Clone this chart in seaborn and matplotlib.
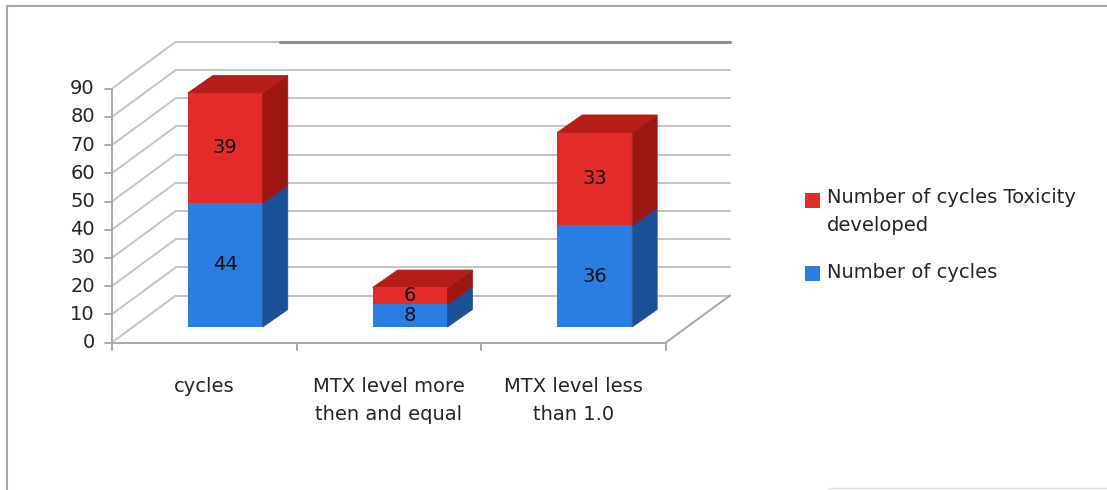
import matplotlib.pyplot as plt
import seaborn as sns
from matplotlib.patches import Polygon, Rectangle
from matplotlib.lines import Line2D

# data
categories = ["cycles", "MTX level more\nthen and equal", "MTX level less\nthan 1.0"]
cycles = [44, 8, 36]
toxicity = [39, 6, 33]
yticks = list(range(0, 100, 10))
legend_labels = ["Number of cycles Toxicity\ndeveloped", "Number of cycles"]

BLUE, BLUE_SIDE = "#2a7ee2", "#1b4f97"
RED, RED_TOP, RED_SIDE = "#e32c2a", "#b51d18", "#9c1612"
GRID = "#c4c4c4"
AXIS = "#a9a9a9"

W, H = 1107, 490
PX_X, PX_Y = 184.7, 2.82      # pixels per category / per value unit
OX, OY = 225.3, 327           # pixel of the bar front plane at (cat 0, value 0)

DX, DY = 64 / PX_X, 47 / PX_Y     # depth of the 3d box
F = 0.33                          # bars sit this far into the box
BDX, BDY = 25 / PX_X, 17.5 / PX_Y  # depth of one bar
FX, FY = -F * DX, -F * DY         # front plane offset from the bar plane

sns.set_style("white")
plt.rcParams["font.family"] = ["DejaVu Sans"]

fig = plt.figure(figsize=(W / 100, H / 100), dpi=100)
ax = fig.add_axes([0, 0, 1, 1])

bar_w = 75 / PX_X
sns.barplot(x=categories, y=cycles, color=BLUE, saturation=1, width=bar_w,
            errorbar=None, linewidth=0, ax=ax)
sns.barplot(x=categories, y=toxicity, bottom=cycles, color=RED, saturation=1,
            width=bar_w, errorbar=None, linewidth=0, ax=ax)

ax.set_axis_off()
ax.set_xlim(-OX / PX_X, (W - OX) / PX_X)
ax.set_ylim(-(H - OY) / PX_Y, OY / PX_Y)

# walls and floor
x_left = -0.5 + FX
x_right = len(categories) - 0.5 + FX
lw = 1.4
for v in yticks:
    ax.plot([x_left + DX, x_right + DX], [v + FY + DY] * 2, color=GRID, lw=lw, zorder=0)
    ax.plot([x_left, x_left + DX], [v + FY, v + FY + DY], color=GRID, lw=lw, zorder=0)
    ax.plot([x_left - 7 / PX_X, x_left], [v + FY] * 2, color=AXIS, lw=lw, zorder=0)
    ax.text(x_left - 17 / PX_X, v + FY, str(v), ha="right", va="center",
            fontsize=14, color="#262626")
top = yticks[-1] + FY + DY
ax.plot([(280 - OX) / PX_X, x_right + DX], [top, top], color="#8c8c8c", lw=2.2, zorder=0)
ax.plot([x_left, x_left], [FY, yticks[-1] + FY], color=AXIS, lw=lw, zorder=0)
ax.plot([x_left, x_right], [FY, FY], color=AXIS, lw=lw, zorder=0)
ax.plot([x_right, x_right + DX], [FY, FY + DY], color=AXIS, lw=lw, zorder=0)
for i in range(len(categories) + 1):
    xx = i - 0.5 + FX
    ax.plot([xx, xx], [FY, FY - 7 / PX_Y], color=AXIS, lw=lw, zorder=0)
for i, cat in enumerate(categories):
    ax.text(i + FX, FY - 12.4, cat, ha="center", va="top", fontsize=14,
            linespacing=1.6, color="#262626")

# 3d faces of the bars
n = len(categories)
blue_bars, red_bars = ax.patches[:n], ax.patches[n:2 * n]
for bars, side in [(blue_bars, BLUE_SIDE), (red_bars, RED_SIDE)]:
    for p in bars:
        x1 = p.get_x() + p.get_width()
        y0, y1 = p.get_y(), p.get_y() + p.get_height()
        ax.add_patch(Polygon([(x1, y0), (x1, y1), (x1 + BDX, y1 + BDY), (x1 + BDX, y0 + BDY)],
                             facecolor=side, edgecolor=side, lw=0.5, zorder=1))
for p in red_bars:
    x0, x1 = p.get_x(), p.get_x() + p.get_width()
    y1 = p.get_y() + p.get_height()
    ax.add_patch(Polygon([(x0, y1), (x1, y1), (x1 + BDX, y1 + BDY), (x0 + BDX, y1 + BDY)],
                         facecolor=RED_TOP, edgecolor=RED_TOP, lw=0.5, zorder=1))

for bars, vals in [(blue_bars, cycles), (red_bars, toxicity)]:
    for p, v in zip(bars, vals):
        ax.text(p.get_x() + p.get_width() / 2, p.get_y() + p.get_height() / 2, str(v),
                ha="center", va="center", fontsize=14, color="#111111", zorder=3)


def fx(px):
    return px / W


def fy(py):
    return 1 - py / H


# legend
for color, label, ty in [(RED, legend_labels[0], 211), (BLUE, legend_labels[1], 272)]:
    sq_y = 193 if color == RED else 266
    fig.add_artist(Rectangle((fx(805), fy(sq_y + 15)), 15 / W, 15 / H,
                             transform=fig.transFigure, facecolor=color, edgecolor="none"))
    fig.text(fx(827), fy(ty), label, ha="left", va="center", fontsize=14,
             linespacing=1.6, color="#262626")

# frame of the screenshot
fig.add_artist(Line2D([fx(7), fx(7)], [0, fy(6)], color="#a6a6a6", lw=1.5))
fig.add_artist(Line2D([fx(7), 1], [fy(6), fy(6)], color="#a6a6a6", lw=1.5))
fig.add_artist(Line2D([fx(828), 1], [fy(488), fy(488)], color="#e0e0e0", lw=1))

fig.savefig("out.png", dpi=100)
